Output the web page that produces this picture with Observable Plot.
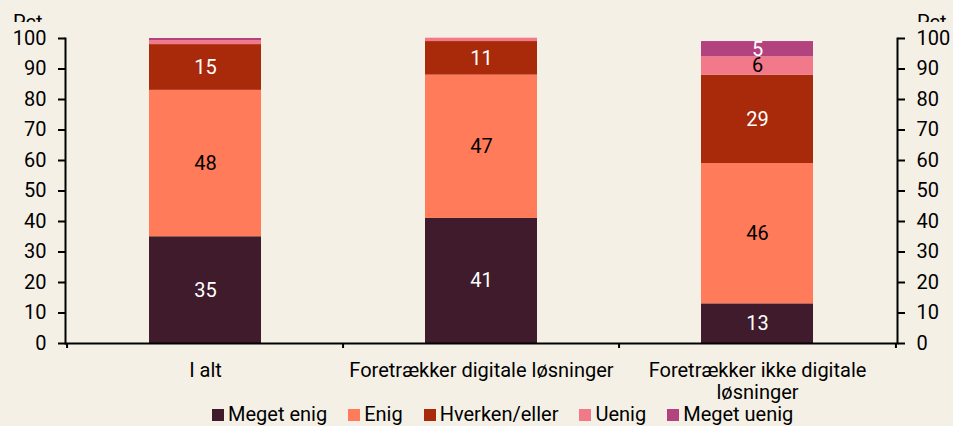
<!DOCTYPE html>
<html>
<head>
<meta charset="utf-8">
<script src="https://cdn.jsdelivr.net/npm/d3@7"></script>
<script src="https://cdn.jsdelivr.net/npm/@observablehq/plot@0.6"></script>
<style>
  html, body { margin: 0; padding: 0; background: #F5F0E6; }
  body { width: 953px; height: 426px; position: relative; overflow: hidden; font-family: Roboto, "Liberation Sans", sans-serif; }
  .pct { position: absolute; top: 0; height: 22px; overflow: hidden; font-size: 20px; line-height: 20px; color: #000; }
  .pct span { display: block; padding-top: 12px; }
  #legend { position: absolute; left: 212px; top: 404px; display: flex; align-items: flex-start; font-size: 20px; line-height: 20px; color: #000; white-space: nowrap; }
  #legend .item { display: flex; align-items: flex-start; margin-right: 21px; }
  #legend .sw { width: 12px; height: 12px; margin-right: 4px; margin-top: 5px; }
  #chart { position: absolute; left: 0; top: 0; }
</style>
</head>
<body>
<div id="chart"></div>
<div class="pct" style="left:13px"><span>Pct.</span></div>
<div class="pct" style="left:917px"><span>Pct.</span></div>
<div id="legend"></div>
<script>
const categories = ["I alt", "Foretrækker digitale løsninger", "Foretrækker ikke digitale løsninger"];
const xTickLabels = ["I alt", "Foretrækker digitale løsninger", "Foretrækker ikke digitale\nløsninger"];
const series = ["Meget enig", "Enig", "Hverken/eller", "Uenig", "Meget uenig"];
const megetEnig = [35, 41, 13];
const enig = [48, 47, 46];
const hverken = [15, 11, 29];
const uenig = [1.3, 1.1, 6];
const megetUenig = [0.7, 0, 5];
const yTicks = [0, 10, 20, 30, 40, 50, 60, 70, 80, 90, 100];
const colors = ["#3F1B2C", "#FF7B5A", "#A9290B", "#F2798A", "#B3437E"];
const labelColors = ["#fff", "#000", "#fff", "#000", "#fff"];

const values = [megetEnig, enig, hverken, uenig, megetUenig];
const data = categories.flatMap((c, i) =>
  series.map((s, j) => ({category: c, series: s, value: values[j][i], labelColor: labelColors[j]}))
);

const W = 953, H = 400, mL = 65, mR = 56, mT = 38, mB = 57;
const pIn = 0.595, pOut = 0.3;
const step = (W - mL - mR) / (categories.length - pIn + 2 * pOut);
const fmtLabel = d => xTickLabels[categories.indexOf(d)];
const FS = 20;

const chart = Plot.plot({
  width: W, height: H,
  marginLeft: mL, marginRight: mR, marginTop: mT, marginBottom: mB,
  style: {background: "transparent", fontFamily: "Roboto, 'Liberation Sans', sans-serif", fontSize: FS + "px", color: "#000", overflow: "visible"},
  x: {domain: categories, paddingInner: pIn, paddingOuter: pOut, label: null},
  y: {domain: [0, 100], label: null},
  color: {domain: series, range: colors},
  marks: [
    Plot.barY(data, {x: "category", y: "value", fill: "series", order: series}),
    Plot.text(data.filter(d => d.value >= 3), Plot.stackY({
      x: "category", y: "value", z: "series", order: series,
      text: d => Math.round(d.value), fill: "labelColor", fontSize: FS
    })),
    Plot.axisY({anchor: "left", ticks: yTicks, tickSize: 7, tickPadding: 12, fontSize: FS, strokeWidth: 2, label: null}),
    Plot.axisY({anchor: "right", ticks: yTicks, tickSize: 7, tickPadding: 12, fontSize: FS, strokeWidth: 2, label: null}),
    Plot.frame({anchor: "left", strokeWidth: 2}),
    Plot.frame({anchor: "right", strokeWidth: 2}),
    Plot.ruleY([0], {strokeWidth: 2}),
    Plot.axisX({tickSize: 0, tickPadding: 18, fontSize: FS, lineHeight: 1.1, tickFormat: fmtLabel, label: null}),
    Plot.axisX({tickSize: 5, dx: -step / 2, tickFormat: () => "", strokeWidth: 2, label: null}),
    Plot.axisX({ticks: [categories[categories.length - 1]], tickSize: 5, dx: step / 2, tickFormat: () => "", strokeWidth: 2, label: null})
  ]
});
document.getElementById("chart").appendChild(chart);

const legend = document.getElementById("legend");
series.forEach((s, j) => {
  const item = document.createElement("div");
  item.className = "item";
  const sw = document.createElement("div");
  sw.className = "sw";
  sw.style.background = colors[j];
  const t = document.createElement("span");
  t.textContent = s;
  item.appendChild(sw);
  item.appendChild(t);
  legend.appendChild(item);
});
</script>
</body>
</html>
